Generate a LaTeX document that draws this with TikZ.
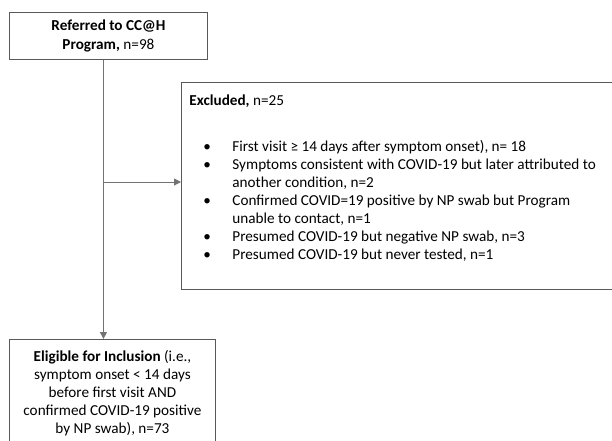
\documentclass[tikz,border=0pt]{standalone}
\usepackage{fontspec}
\setmainfont{Carlito}
\usetikzlibrary{arrows.meta}

\begin{document}
\begin{tikzpicture}[x=1pt,y=-1pt,>={Triangle[length=7pt,width=7pt]},
 flowbox/.style={draw=black!65,line width=0.9pt,inner sep=0pt,font=\fontsize{15.2pt}{18pt}\selectfont},
 link/.style={draw=black!55,line width=1pt}]
\useasboundingbox (0,0) rectangle (612,440);
\node[flowbox,anchor=north west,minimum width=198pt,minimum height=47pt,align=center]
 (referred) at (9,12) {\textbf{Referred to CC@H}\\\textbf{Program,} n=98};
\node[flowbox,anchor=north west] (excl) at (181,82)
 {\begin{minipage}[t][207pt][t]{440pt}
 \rule{0pt}{23pt}\hspace{8pt}\textbf{Excluded,} n=25\par
 \vspace{28pt}
 \hangindent=51pt\hangafter=1\makebox[51pt][l]{\hspace{22pt}\textbullet}First visit ≥ 14 days after symptom onset), n= 18\par
 \hangindent=51pt\hangafter=1\makebox[51pt][l]{\hspace{22pt}\textbullet}Symptoms consistent with COVID-19 but later attributed to\\another condition, n=2\par
 \hangindent=51pt\hangafter=1\makebox[51pt][l]{\hspace{22pt}\textbullet}Confirmed COVID=19 positive by NP swab but Program\\unable to contact, n=1\par
 \hangindent=51pt\hangafter=1\makebox[51pt][l]{\hspace{22pt}\textbullet}Presumed COVID-19 but negative NP swab, n=3\par
 \hangindent=51pt\hangafter=1\makebox[51pt][l]{\hspace{22pt}\textbullet}Presumed COVID-19 but never tested, n=1\par
 \end{minipage}};
\node[flowbox,anchor=north west,minimum width=206pt,inner ysep=11pt,align=center]
 (eligible) at (9,339) {\textbf{Eligible for Inclusion} (i.e.,\\symptom onset < 14 days\\before first visit AND\\confirmed COVID-19 positive\\by NP swab), n=73};
\coordinate (branch) at ([xshift=-5pt]referred.south |- 0,182);
\draw[link,->] ([xshift=-5pt]referred.south) -- ([xshift=-5pt]referred.south |- eligible.north);
\draw[link,->] (branch) -- (branch -| excl.west);
\end{tikzpicture}
\end{document}
